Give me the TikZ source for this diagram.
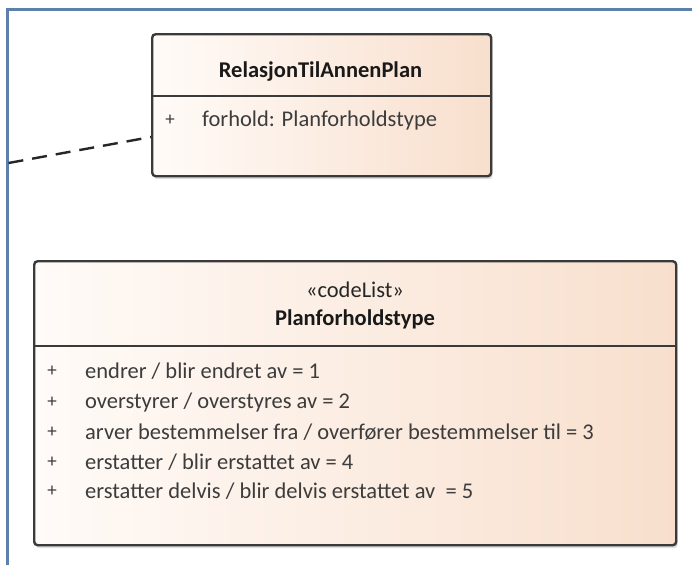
\documentclass[tikz,border=0pt]{standalone}
\usepackage{fontspec}
\setmainfont{Carlito}
\usetikzlibrary{shadows}
\definecolor{frameblue}{HTML}{5B80AA}
\definecolor{boxline}{HTML}{3A3A3A}
\definecolor{peachL}{HTML}{FFFBF8}
\definecolor{peachR}{HTML}{F8DFCD}
\definecolor{attrtext}{HTML}{3C3C3C}
\tikzset{
  umlbox/.style={draw=boxline, line width=2.4pt, rounded corners=3.5pt,
    left color=peachL, right color=peachR,
    drop shadow={shadow xshift=1.5pt, shadow yshift=-3pt, opacity=0.25, fill=gray}},
  divider/.style={draw=boxline, line width=2.2pt},
  title/.style={font=\fontsize{22.5}{25}\selectfont\bfseries, text=black!90},
  stereo/.style={font=\fontsize{22.5}{25}\selectfont, text=black!85},
  attr/.style={font=\fontsize{22.5}{25}\selectfont, text=attrtext, anchor=west, inner sep=0pt},
  vis/.style={font=\fontsize{19}{21}\selectfont, text=attrtext, inner sep=0pt},
  frame/.style={draw=frameblue, line width=2.6pt},
  dep/.style={draw=black!85, line width=2.4pt, dash pattern=on 15pt off 9pt}
}
\begin{document}
\begin{tikzpicture}[x=1pt, y=-1pt]
\useasboundingbox (0,0) rectangle (692,565);
\fill[white] (0,0) rectangle (692,565);
% diagram frame
\draw[frame] (7.5,565) -- (7.5,9.5) -- (692,9.5);

% class RelasjonTilAnnenPlan
\node[umlbox, minimum width=339pt, minimum height=142pt, anchor=north west, inner sep=0pt] (rel) at (151,33) {};
\draw[divider] (151,96) -- (490,96);
\node[title] (relname) at (320.5,72) {RelasjonTilAnnenPlan};
\node[vis] (relvis) at (170,120) {+};
\node[attr] (relattr) at (202,120) {forhold: Planforholdstype};

% codelist Planforholdstype
\node[umlbox, minimum width=642pt, minimum height=284pt, anchor=north west, inner sep=0pt] (pft) at (33,260) {};
\draw[divider] (33,346) -- (675,346);
\node[stereo] (pftstereo) at (355,290) {«codeList»};
\node[title] (pftname) at (355,319) {Planforholdstype};
\foreach \y/\t [count=\i] in {
  371/{endrer / blir endret av = 1},
  402/{overstyrer / overstyres av = 2},
  432/{arver bestemmelser fra / overfører bestemmelser til = 3},
  462/{erstatter / blir erstattet av = 4},
  491/{erstatter delvis / blir delvis erstattet av\ \ = 5}} {
  \node[vis] (pv\i) at (52,\y) {+};
  \node[attr] (pa\i) at (85,\y) {\t};
}

% dependency from the left
\coordinate (depstart) at (8.5,163);
\draw[dep] (depstart) -- (rel.west |- 0,137);
\end{tikzpicture}
\end{document}
